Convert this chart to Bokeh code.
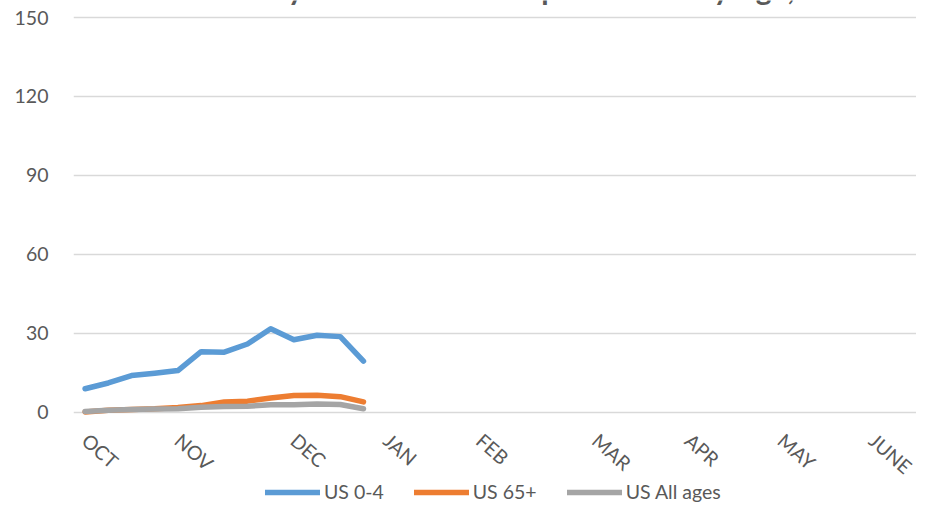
from bokeh.plotting import figure
from bokeh.models import (Range1d, FixedTicker, Legend, LegendItem, Label, ColumnDataSource)
from bokeh.embed import file_html
from bokeh.resources import INLINE

# ---- data ----
weeks = list(range(13))
us_0_4 = [9.0, 11.2, 14.0, 14.9, 15.9, 23.1, 22.9, 26.0, 31.8, 27.6, 29.3, 28.8, 19.5]
us_65 = [0.2, 0.8, 1.1, 1.4, 1.9, 2.6, 4.0, 4.3, 5.5, 6.4, 6.5, 6.0, 4.0]
us_all = [0.4, 0.8, 1.1, 1.3, 1.4, 2.0, 2.3, 2.4, 2.9, 2.9, 3.2, 3.0, 1.4]

month_ticks = [0, 4, 9, 13, 17, 22, 26, 30, 34]
month_labels = ["OCT", "NOV", "DEC", "JAN", "FEB", "MAR", "APR", "MAY", "JUNE"]
y_ticks = [0, 30, 60, 90, 120, 150]
title_text = "Weekly Rates of RSV Hospitalization by Age, US"

FONT = "Lato"
TXT = "#595959"

# frame fills the canvas vertically; the x axis sits at y = 0 and the
# legend is placed in the empty band below it
p = figure(width=916, height=503, output_backend="svg", toolbar_location=None,
           x_range=Range1d(-0.5, 35.84), y_range=Range1d(-34.58, 156.46),
           min_border_left=73, min_border_right=0, min_border_top=0, min_border_bottom=0)
p.outline_line_color = None
p.background_fill_color = "white"
p.border_fill_color = "white"

# axes
p.yaxis.ticker = FixedTicker(ticks=y_ticks)
p.yaxis.axis_line_color = None
p.yaxis.major_tick_line_color = None
p.yaxis.minor_tick_line_color = None
p.yaxis.major_label_standoff = 19
p.yaxis.major_label_text_font = FONT
p.yaxis.major_label_text_font_size = "19.5px"
p.yaxis.major_label_text_color = TXT

p.xaxis.fixed_location = 0
p.xaxis.ticker = FixedTicker(ticks=month_ticks)
p.xaxis.major_label_overrides = {t: l for t, l in zip(month_ticks, month_labels)}
p.xaxis.axis_line_color = None
p.xaxis.major_tick_line_color = None
p.xaxis.minor_tick_line_color = None
p.xaxis.major_label_orientation = -0.72
p.xaxis.major_label_standoff = 19
p.xaxis.major_label_text_font = FONT
p.xaxis.major_label_text_font_size = "19.5px"
p.xaxis.major_label_text_color = TXT

p.xgrid.grid_line_color = None
p.ygrid.grid_line_color = "#d9d9d9"
p.ygrid.grid_line_width = 1.3

colors = ["#5B9BD5", "#ED7D31", "#A5A5A5"]
names = ["US 0-4", "US 65+", "US All ages"]
series = [us_0_4, us_65, us_all]
items = []
for vals, c, n in zip(series, colors, names):
    src = ColumnDataSource(dict(x=weeks, y=vals))
    r = p.line("x", "y", source=src, line_color=c, line_width=5.5,
               line_cap="round", line_join="round")
    items.append(LegendItem(label=n, renderers=[r]))

legend = Legend(items=items, orientation="horizontal", location=(192, 0),
                glyph_width=55, glyph_height=20, label_height=20, label_standoff=4,
                spacing=30, padding=0, margin=0,
                label_text_font=FONT, label_text_font_size="19.5px",
                label_text_color=TXT, border_line_color=None,
                background_fill_alpha=0)
p.add_layout(legend, "center")

title = Label(x=18.9, y=161.2, text=title_text, text_align="center",
              text_baseline="alphabetic", text_font=FONT, text_font_style="bold",
              text_font_size="30px", text_color=TXT)
p.add_layout(title)

open("out.html", "w").write(file_html(p, INLINE))
